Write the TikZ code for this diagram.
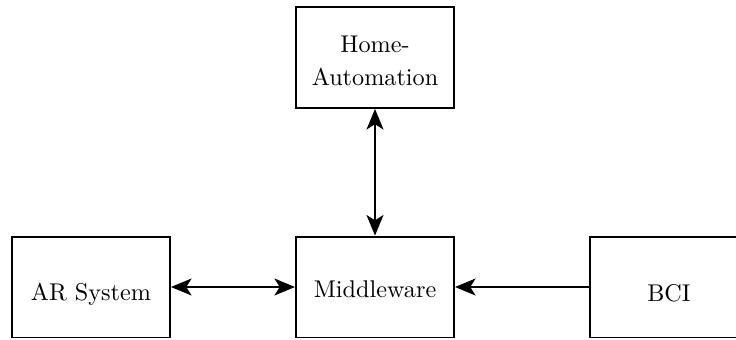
\documentclass[tikz,border=0pt]{standalone}
\usetikzlibrary{arrows.meta}
\begin{document}
\begin{tikzpicture}[x=0.4132pt,y=-0.4132pt,
  box/.style={draw, line width=0.8pt, minimum width=65.3pt, minimum height=41.7pt, inner sep=0pt, align=center},
  link/.style={line width=0.8pt, -{Stealth[length=8.5pt,width=7pt,inset=2.2pt]}},
  both/.style={line width=0.8pt, {Stealth[length=8.5pt,width=7pt,inset=2.2pt]}-{Stealth[length=8.5pt,width=7pt,inset=2.2pt]}}]
\clip (0,0) rectangle (736,339);
\node[box, text height=23.2pt, text depth=0pt, font=\fontsize{10}{13.8}\selectfont] (home) at (375,57.5) {Home-\\Automation};
\node[box, text height=8.26pt, text depth=0pt] (mid) at (375,287) {Middleware};
\node[box, text height=10.74pt, text depth=0pt] (ar) at (91,287) {AR System};
\node[box, text height=11.57pt, text depth=0pt] (bci) at (669,287) {BCI};
\draw[both] (home) -- (mid);
\draw[both] (ar) -- (mid);
\draw[link] (bci) -- (mid);
\end{tikzpicture}
\end{document}
